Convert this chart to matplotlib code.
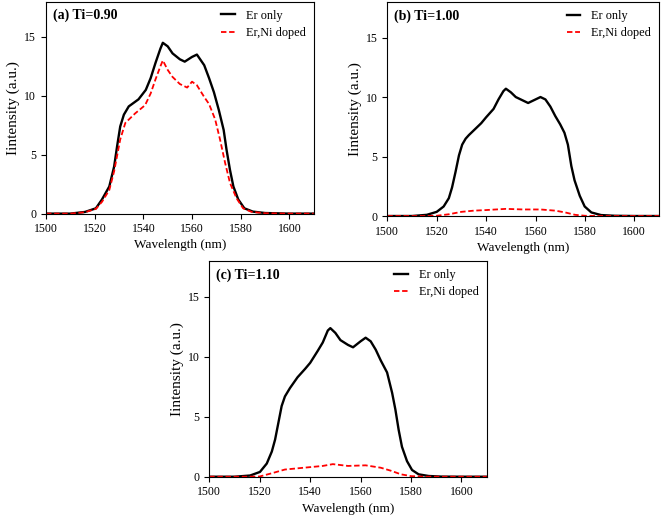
import matplotlib
matplotlib.use("Agg")
from matplotlib import pyplot as plt

plt.rcParams["font.family"] = "Liberation Serif"
plt.rcParams["font.size"] = 9.5

# (a) Ti=0.90
wl_a = [1500, 1510, 1516, 1520.5, 1523, 1526, 1528, 1529.2, 1530.5, 1532, 1534, 1538,
        1541, 1543, 1545, 1547, 1548, 1550, 1552, 1555, 1557, 1560, 1562, 1565, 1567,
        1569, 1571, 1573, 1574.2, 1575.6, 1577, 1579, 1581.5, 1585, 1590, 1600, 1610]
er_a = [0, 0, 0.14, 0.45, 1.2, 2.3, 4.0, 5.7, 7.4, 8.4, 9.1, 9.7,
        10.5, 11.5, 12.8, 14.0, 14.5, 14.2, 13.6, 13.1, 12.9, 13.3, 13.5, 12.6, 11.5,
        10.3, 8.8, 7.1, 5.4, 3.7, 2.3, 1.2, 0.45, 0.17, 0.05, 0, 0]
wl_a2 = [1500, 1510, 1516, 1520.5, 1523, 1526, 1528, 1530.5, 1532.6, 1536.6, 1540.7,
         1543, 1545, 1547, 1548, 1550, 1552, 1555, 1558, 1560, 1562, 1565, 1567,
         1569.5, 1571.5, 1573.6, 1575.6, 1578.3, 1581, 1584.4, 1590, 1600, 1610]
erni_a = [0, 0, 0.12, 0.4, 1.0, 2.0, 3.6, 6.3, 7.7, 8.5, 9.2,
          10.2, 11.4, 12.5, 13.0, 12.2, 11.6, 11.0, 10.7, 11.2, 10.9, 9.9, 9.3,
          8.0, 6.3, 4.3, 2.6, 1.3, 0.45, 0.15, 0.03, 0, 0]

# (b) Ti=1.00
wl_b = [1500, 1510, 1516, 1520, 1522.8, 1524.9, 1526.2, 1527.6, 1529, 1530.3, 1531.7,
        1533, 1535, 1538, 1540, 1543, 1545, 1547, 1548, 1550, 1552, 1555, 1557, 1560,
        1562, 1564, 1566, 1568, 1570, 1571.7, 1573.1, 1574.5, 1575.8, 1577.9, 1579.9,
        1582.6, 1586.5, 1592, 1600, 1610]
er_b = [0, 0, 0.1, 0.35, 0.8, 1.5, 2.4, 3.7, 5.1, 6.0, 6.5,
        6.8, 7.2, 7.8, 8.3, 9.0, 9.8, 10.5, 10.7, 10.4, 10.0, 9.7, 9.5, 9.8,
        10.0, 9.8, 9.2, 8.4, 7.7, 7.0, 6.0, 4.2, 3.0, 1.7, 0.8,
        0.3, 0.08, 0.02, 0, 0]
wl_b2 = [1500, 1515, 1520, 1525, 1530, 1535, 1540, 1548, 1555, 1562, 1568, 1572,
         1576, 1580, 1585, 1600, 1610]
erni_b = [0, 0, 0.02, 0.15, 0.35, 0.45, 0.5, 0.6, 0.55, 0.55, 0.45, 0.3,
          0.1, 0.02, 0, 0, 0]

# (c) Ti=1.10
wl_c = [1500, 1510, 1516.2, 1520.1, 1522.8, 1524.8, 1526.1, 1527.4, 1528.7, 1530, 1532,
        1535, 1538, 1540, 1543, 1545, 1547, 1548, 1550, 1552, 1555, 1557, 1560, 1562,
        1564, 1566, 1568, 1570.5, 1572.5, 1573.8, 1575.1, 1576.4, 1578.4, 1580.4, 1583,
        1587, 1592, 1600, 1610]
er_c = [0, 0, 0.1, 0.4, 1.1, 2.1, 3.1, 4.5, 5.9, 6.7, 7.4,
        8.3, 9.0, 9.5, 10.5, 11.2, 12.2, 12.4, 12.0, 11.4, 11.0, 10.8, 11.3, 11.6,
        11.3, 10.6, 9.7, 8.7, 7.0, 5.6, 3.9, 2.5, 1.3, 0.56, 0.2,
        0.06, 0.01, 0, 0]
wl_c2 = [1500, 1515, 1520, 1525, 1530, 1535, 1540, 1545, 1549, 1555, 1562, 1568,
         1572, 1576, 1580, 1585, 1600, 1610]
erni_c = [0, 0, 0.02, 0.3, 0.6, 0.7, 0.8, 0.9, 1.05, 0.9, 0.95, 0.75,
          0.5, 0.2, 0.05, 0, 0, 0]

panels = [
    ("(a) Ti=0.90", [0.0696, 0.590, 0.405, 0.407], wl_a, er_a, wl_a2, erni_a),
    ("(b) Ti=1.00", [0.586, 0.5854, 0.411, 0.411], wl_b, er_b, wl_b2, erni_b),
    ("(c) Ti=1.10", [0.3166, 0.085, 0.4197, 0.414], wl_c, er_c, wl_c2, erni_c),
]

fig = plt.figure(figsize=(6.61, 5.21), dpi=100)

for title, pos, x1, y1, x2, y2 in panels:
    ax = fig.add_axes(pos)
    ax.plot(x1, y1, color="black", lw=1.7, label="Er only")
    ax.plot(x2, y2, color="red", lw=1.3, ls=(0, (3, 1.5)), label="Er,Ni doped")
    ax.set_xlim(1500, 1610)
    ax.set_ylim(0, 18)
    ax.set_xticks(range(1500, 1601, 20))
    ax.set_yticks([0, 5, 10, 15])
    ax.tick_params(direction="out", length=3.5, width=0.8, labelsize=8.5)
    ax.set_xlabel("Wavelength (nm)", labelpad=3)
    ax.set_ylabel("Iintensity (a.u.)", fontsize=11, labelpad=3)
    ax.text(0.025, 0.965, title, transform=ax.transAxes, fontweight="bold",
            fontsize=10, va="top", ha="left")
    ax.legend(loc="upper right", frameon=False, fontsize=8.8, handlelength=1.1,
              handletextpad=0.9, borderaxespad=0.25, labelspacing=0.45)

fig.savefig("out.png", dpi=100)
